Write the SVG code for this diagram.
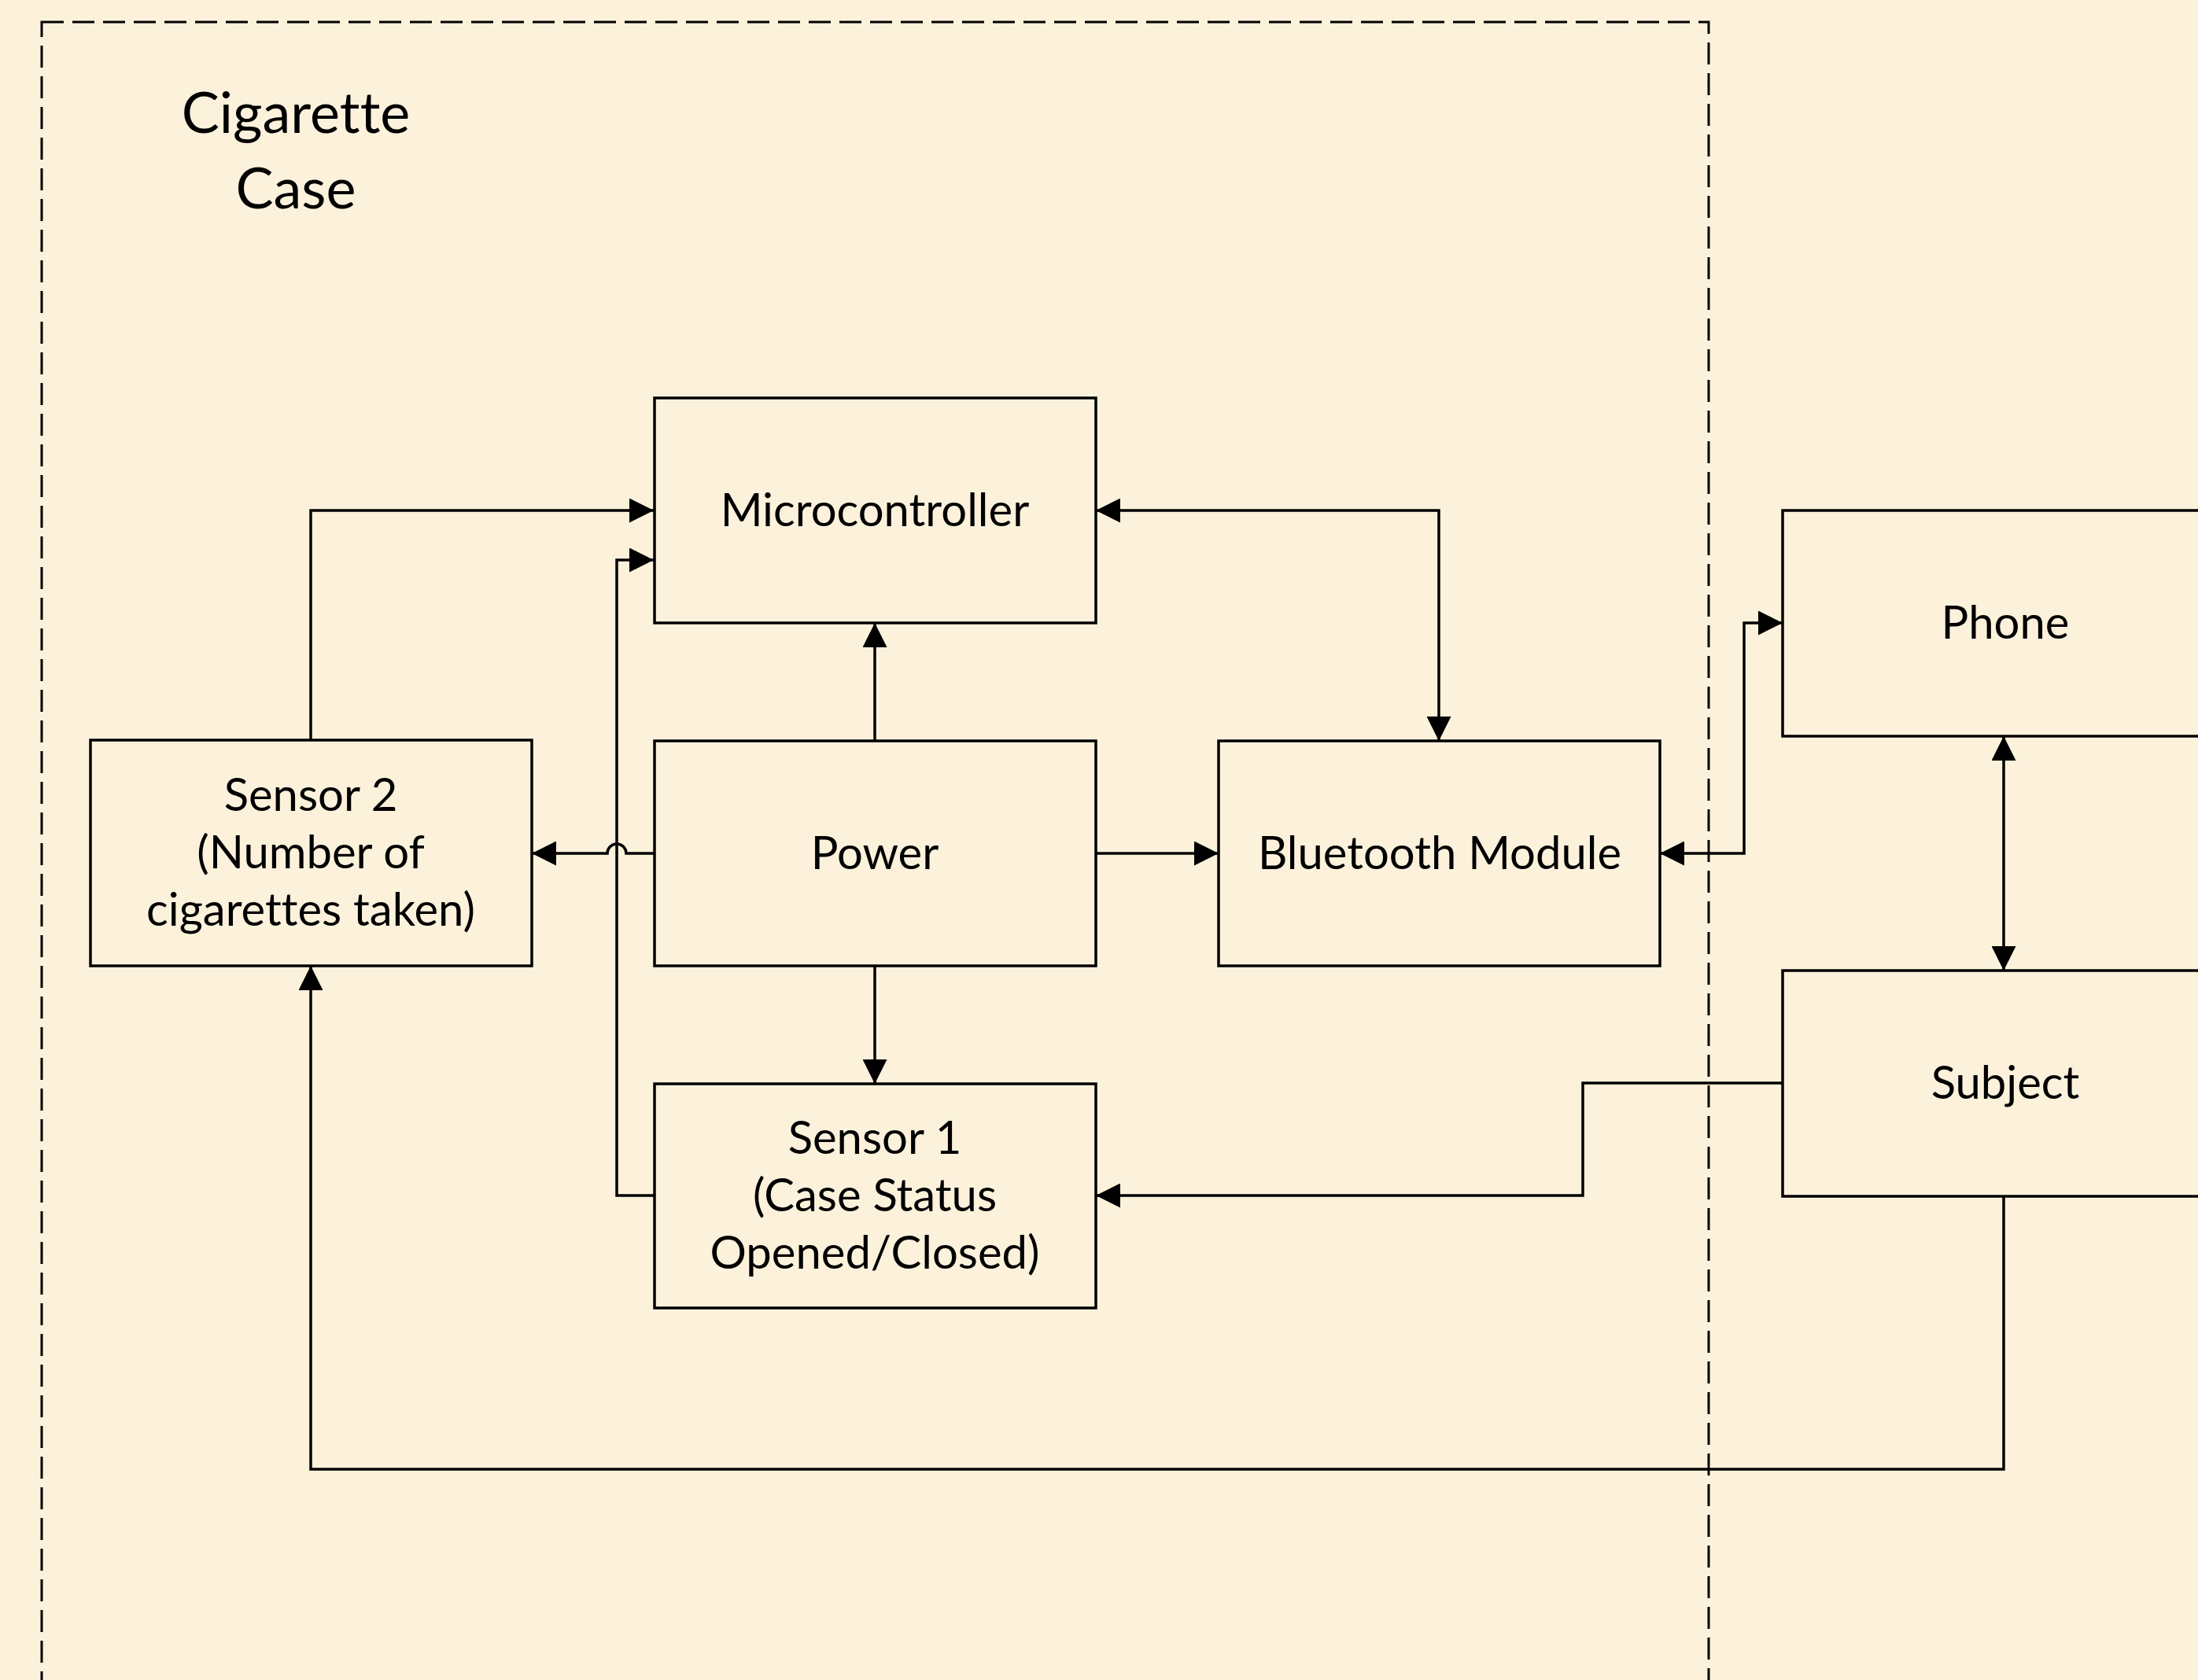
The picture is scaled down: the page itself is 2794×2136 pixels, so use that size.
<svg xmlns="http://www.w3.org/2000/svg" width="2794" height="2136" viewBox="0 0 2794 2136">
  <defs>
    <marker id="arr" markerUnits="userSpaceOnUse" markerWidth="31" markerHeight="31" viewBox="0 0 31 31" refX="31" refY="15.5" orient="auto-start-reverse">
      <path d="M0,0 L31,15.5 L0,31 z" fill="#000"/>
    </marker>
  </defs>
  <style>
    .box { fill: #FCF2DC; stroke: #000; stroke-width: 3.5; }
    .lbl { font-family: Lato, "Liberation Sans", sans-serif; font-size: 58px; fill: #000; text-anchor: middle; font-variant-ligatures: none; }
    .title { font-family: Lato, "Liberation Sans", sans-serif; font-size: 72px; fill: #000; text-anchor: middle; font-variant-ligatures: none; }
    .conn { fill: none; stroke: #000; stroke-width: 3.5; }
    .arr { marker-end: url(#arr); }
    .arr2 { marker-start: url(#arr); marker-end: url(#arr); }
    .frame { fill: none; stroke: #000; stroke-width: 3; stroke-dasharray: 28 11; }
  </style>
  <rect x="0" y="0" width="2794" height="2136" fill="#FCF2DC"/>

  <g id="cigarette-case">
    <rect class="frame" x="53" y="28" width="2119" height="2200"/>
    <text class="title" x="376" y="169">Cigarette</text>
    <text class="title" x="376" y="265">Case</text>
  </g>

  <g id="connectors">
    <path class="conn arr" d="M395,941 V649 H831"/>
    <path class="conn arr" d="M831,1520 H784 V712 H831"/>
    <path class="conn arr" d="M1112,942 V792"/>
    <path class="conn arr2" d="M1393,649 H1829 V942"/>
    <path class="conn arr" d="M831,1085 H796 A12 12 0 0 0 772 1085 H676"/>
    <path class="conn arr" d="M1393,1085 H1549"/>
    <path class="conn arr" d="M1112,1228 V1378"/>
    <path class="conn arr2" d="M2110,1085 H2217 V792 H2266"/>
    <path class="conn arr2" d="M2547,936 V1234"/>
    <path class="conn arr" d="M2266,1377 H2012 V1520 H1393"/>
    <path class="conn arr" d="M2547,1521 V1868 H395 V1228"/>
  </g>

  <g id="microcontroller">
    <rect class="box" x="832" y="506" width="561" height="286"/>
    <text class="lbl" x="1112" y="669">Microcontroller</text>
  </g>
  <g id="sensor2">
    <rect class="box" x="115" y="941" width="561" height="287"/>
    <text class="lbl" x="395" y="1031">Sensor 2</text>
    <text class="lbl" x="395" y="1104">(Number of</text>
    <text class="lbl" x="395" y="1177">cigarettes taken)</text>
  </g>
  <g id="power">
    <rect class="box" x="832" y="942" width="561" height="286"/>
    <text class="lbl" x="1112" y="1105">Power</text>
  </g>
  <g id="bluetooth">
    <rect class="box" x="1549" y="942" width="561" height="286"/>
    <text class="lbl" x="1830" y="1105">Bluetooth Module</text>
  </g>
  <g id="sensor1">
    <rect class="box" x="832" y="1378" width="561" height="285"/>
    <text class="lbl" x="1112" y="1467">Sensor 1</text>
    <text class="lbl" x="1112" y="1540">(Case Status</text>
    <text class="lbl" x="1112" y="1613">Opened/Closed)</text>
  </g>
  <g id="phone">
    <rect class="box" x="2266" y="649" width="562" height="287"/>
    <text class="lbl" x="2549" y="812">Phone</text>
  </g>
  <g id="subject">
    <rect class="box" x="2266" y="1234" width="562" height="287"/>
    <text class="lbl" x="2549" y="1397">Subject</text>
  </g>
</svg>
